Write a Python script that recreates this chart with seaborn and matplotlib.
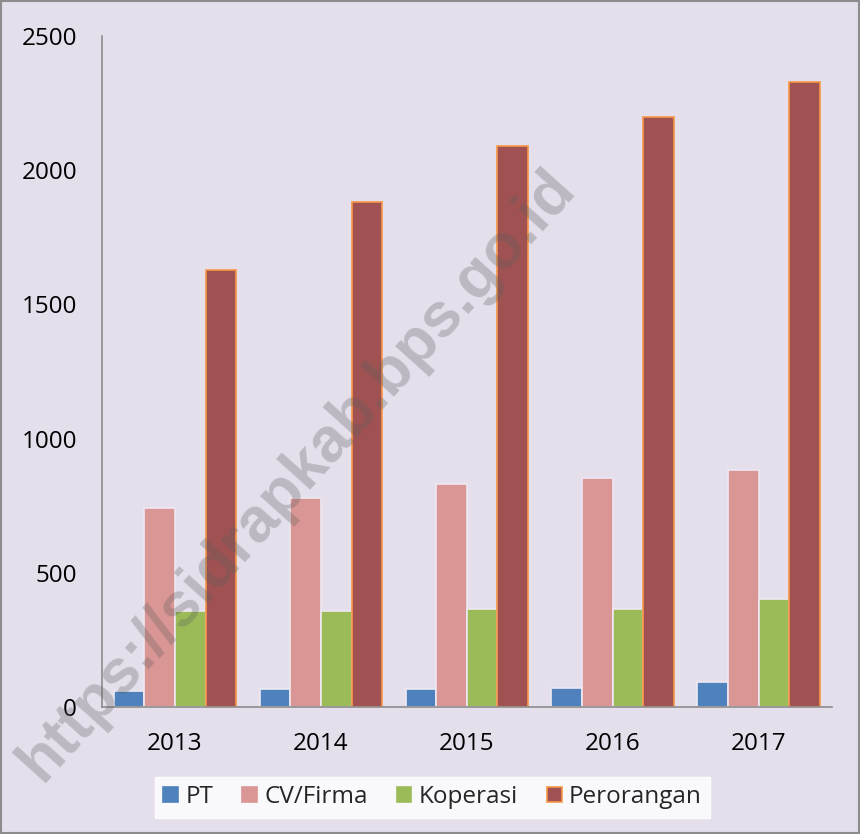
"""Jumlah usaha menurut bentuk badan usaha, 2013-2017."""

import matplotlib.pyplot as plt
import matplotlib.patches as mpatches
import pandas as pd
import seaborn as sns

YEARS = ["2013", "2014", "2015", "2016", "2017"]
SERIES = ["PT", "CV/Firma", "Koperasi", "Perorangan"]
PT = [60, 67, 67, 70, 93]
CV_FIRMA = [741, 778, 832, 852, 883]
KOPERASI = [359, 359, 365, 365, 402]
PERORANGAN = [1628, 1881, 2090, 2198, 2329]
Y_TICKS = [0, 500, 1000, 1500, 2000, 2500]

COLORS = ["#4F81BD", "#DA9694", "#9BBB59", "#A05252"]
BG = "#E5DFEC"
WATERMARK = "https://sidrapkab.bps.go.id"

sns.set_theme(style="white")
plt.rcParams["font.family"] = ["Open Sans", "DejaVu Sans"]

df = pd.DataFrame({
    "tahun": YEARS * 4,
    "jenis": [s for s in SERIES for _ in YEARS],
    "jumlah": PT + CV_FIRMA + KOPERASI + PERORANGAN,
})

fig = plt.figure(figsize=(8.6, 8.34), dpi=100, facecolor=BG)
ax = fig.add_axes([0.1186, 0.1523, 0.8484, 0.8045])
ax.set_facecolor(BG)

sns.barplot(data=df, x="tahun", y="jumlah", hue="jenis", hue_order=SERIES,
            palette=COLORS, width=0.84, saturation=1, ax=ax, legend=False)

# white gaps between bars, orange outline on Perorangan
for i, cont in enumerate(ax.containers):
    for bar in cont:
        bar.set_linewidth(1.2)
        bar.set_edgecolor("#F79646" if SERIES[i] == "Perorangan" else "#EDE8F2")

ax.set_ylim(0, 2500)
ax.set_yticks(Y_TICKS)
ax.set_xlim(-0.5, 4.5)
ax.set_xlabel("")
ax.set_ylabel("")
ax.tick_params(axis="y", length=0, pad=18, labelsize=17.5, colors="black")
ax.tick_params(axis="x", length=0, pad=18, labelsize=17.5, colors="black")
for side in ["top", "right"]:
    ax.spines[side].set_visible(False)
for side in ["left", "bottom"]:
    ax.spines[side].set_color("#8C8C8C")
    ax.spines[side].set_linewidth(1.2)

handles = [mpatches.Patch(facecolor=c, edgecolor=("#F79646" if s == "Perorangan" else c),
                          linewidth=1.2, label=s)
           for s, c in zip(SERIES, COLORS)]
leg = fig.legend(handles=handles, loc="center", bbox_to_anchor=(0.503, 0.044),
                 ncol=4, frameon=True, fontsize=17.5, handlelength=0.6, handleheight=0.6,
                 handletextpad=0.3, columnspacing=1.2, borderpad=0.35,
                 borderaxespad=0, fancybox=False)
leg.get_frame().set_facecolor("white")
leg.get_frame().set_edgecolor("white")

fig.text(0.345, 0.43, WATERMARK, rotation=48, ha="center", va="center",
         fontsize=45, fontweight="bold", color="#5E5E5E", alpha=0.3,
         family=["Liberation Sans", "DejaVu Sans"], zorder=10)

fig.add_artist(mpatches.Rectangle((0.001, 0.001), 0.998, 0.998, transform=fig.transFigure,
                                  fill=False, edgecolor="#8C8C8C", linewidth=1.5))

fig.savefig("out.png", dpi=100, facecolor=BG)
plt.close(fig)
